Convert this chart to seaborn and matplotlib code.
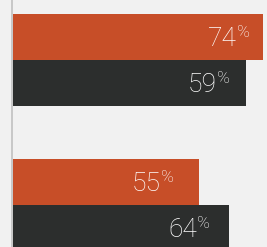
import matplotlib.pyplot as plt
import pandas as pd
import seaborn as sns

# Two groups, two series each
groups = ['Group 1', 'Group 2']
series = ['Orange', 'Dark']

# percentages printed on the bars
labels_orange = [74, 55]
labels_dark = [59, 64]

# bar lengths as drawn (the first dark bar is drawn longer than its label says)
bars_orange = [74, 55]
bars_dark = [69, 64]

colors = ['#c74e28', '#2c2e2d']
bg = '#f1f1f1'

df = pd.DataFrame({
  'group': groups * 2,
  'series': [series[0]] * len(groups) + [series[1]] * len(groups),
  'length': bars_orange + bars_dark,
})

sns.set_theme(style='white')
plt.rcParams['font.family'] = ['Roboto', 'DejaVu Sans']

fig = plt.figure(figsize=(2.67, 2.47), dpi=100, facecolor=bg)
ax = fig.add_axes([13 / 267, 0, 254 / 267, 1])
ax.set_facecolor(bg)

sns.barplot(data=df, x='length', y='group', hue='series', orient='h',
            palette=colors, width=0.634, saturation=1, errorbar=None,
            legend=False, linewidth=0, ax=ax)

ax.set_xlim(0, 254 / 3.377)
ax.set_ylim(1.29, -0.414)
ax.set_xticks([])
ax.set_yticks([])
ax.set_xlabel('')
ax.set_ylabel('')
for side in ['top', 'right', 'bottom']:
  ax.spines[side].set_visible(False)
ax.spines['left'].set_color('#c8c8c8')
ax.spines['left'].set_linewidth(1.44)
ax.spines['left'].set_position(('outward', 0.72))

# Value labels, with a small raised percent sign
for container, labs in zip(ax.containers, [labels_orange, labels_dark]):
  for bar, lab in zip(container, labs):
    w = bar.get_width()
    yc = bar.get_y() + bar.get_height() / 2
    xr = 1.184 * w - 21.4
    ax.annotate(str(lab), (xr, yc), xytext=(0, -6.8), textcoords='offset points',
                ha='right', va='baseline', fontsize=19, fontweight='light',
                color='white')
    ax.annotate('%', (xr, yc), xytext=(0.5, 0.0), textcoords='offset points',
                ha='left', va='baseline', fontsize=12.5, fontweight='light',
                color='white')

fig.savefig('out.png', dpi=100, facecolor=bg)
